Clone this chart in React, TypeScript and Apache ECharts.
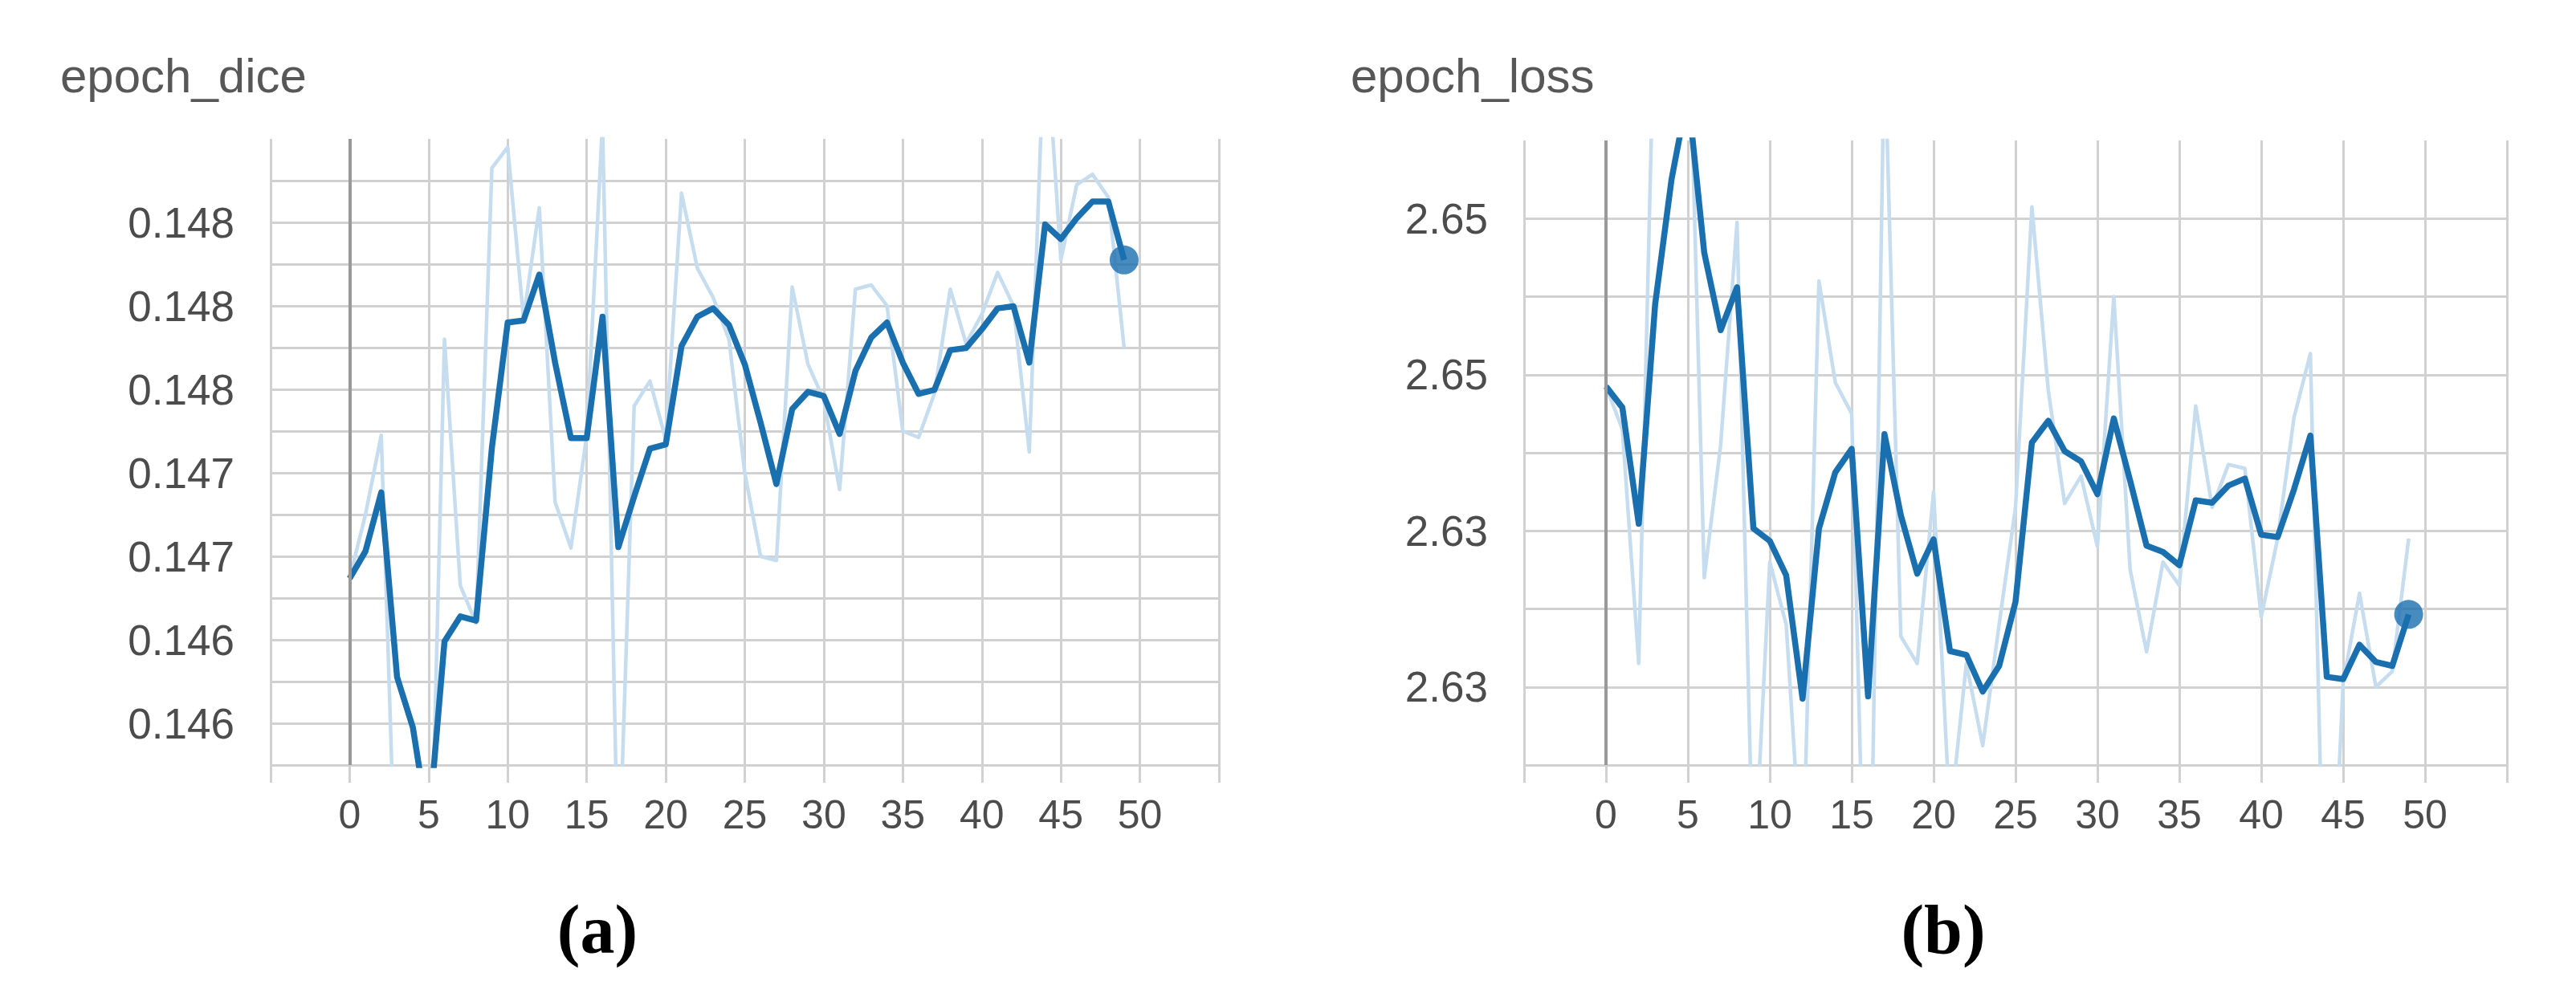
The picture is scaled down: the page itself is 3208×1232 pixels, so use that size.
import React, { useEffect, useRef } from "react";
import * as echarts from "echarts";

const epochs = [
  0, 1, 2, 3, 4, 5, 6, 7, 8, 9, 10, 11, 12, 13, 14, 15, 16, 17, 18, 19, 20, 21, 22, 23, 24,
  25, 26, 27, 28, 29, 30, 31, 32, 33, 34, 35, 36, 37, 38, 39, 40, 41, 42, 43, 44, 45, 46, 47, 48, 49,
];

const diceSmoothed = [
  0.146694, 0.146824, 0.147106, 0.146222, 0.14598, 0.1455, 0.146392, 0.146512, 0.146492, 0.14732,
  0.14792, 0.14793, 0.14815, 0.147728, 0.147366, 0.147366, 0.147948, 0.146844, 0.147086, 0.147316,
  0.147336, 0.147808, 0.147948, 0.147988, 0.147908, 0.14772, 0.14744, 0.147146, 0.147506, 0.147588,
  0.147568, 0.147386, 0.147688, 0.147848, 0.14792, 0.147728, 0.147578, 0.147598, 0.147788, 0.147798,
  0.147888, 0.147988, 0.147998, 0.147728, 0.14839, 0.14832, 0.14842, 0.1485, 0.1485, 0.14822,
];

const diceRaw = [
  0.146694, 0.147, 0.14738, 0.145, 0.1456, 0.1448, 0.14784, 0.14666, 0.14648, 0.14866,
  0.14876, 0.14794, 0.14847, 0.14706, 0.14684, 0.14738, 0.14888, 0.1452, 0.14752, 0.14764,
  0.14736, 0.14854, 0.14818, 0.14804, 0.14784, 0.1472, 0.1468, 0.14678, 0.14809, 0.14772,
  0.14755, 0.14712, 0.14808, 0.1481, 0.148, 0.1474, 0.14737, 0.14758, 0.14808, 0.14782,
  0.14796, 0.14816, 0.148, 0.1473, 0.14938, 0.14822, 0.14858, 0.14863, 0.14852, 0.1478,
];

const lossSmoothed = [
  2.64425, 2.6429, 2.63545, 2.6495, 2.6575, 2.663, 2.6528, 2.64785, 2.6506, 2.63515,
  2.63435, 2.63215, 2.62425, 2.63515, 2.63875, 2.64025, 2.6244, 2.6412, 2.636, 2.63225,
  2.63445, 2.6273, 2.62705, 2.6247, 2.62635, 2.63045, 2.64065, 2.64205, 2.6401, 2.63945,
  2.63735, 2.6422, 2.6382, 2.63405, 2.63365, 2.6328, 2.63695, 2.6368, 2.6379, 2.63835,
  2.63475, 2.6346, 2.63765, 2.6411, 2.62565, 2.6255, 2.6277, 2.6266, 2.62635, 2.62965,
];

const lossRaw = [
  2.64425, 2.6415, 2.6265, 2.6705, 2.669, 2.671, 2.632, 2.6405, 2.65475, 2.612,
  2.633, 2.629, 2.6125, 2.651, 2.6445, 2.6425, 2.6005, 2.6665, 2.62825, 2.6265,
  2.6375, 2.6165, 2.6265, 2.62125, 2.629, 2.6365, 2.65575, 2.644, 2.63675, 2.6385,
  2.634, 2.65, 2.6325, 2.62725, 2.633, 2.6315, 2.643, 2.6365, 2.63925, 2.639,
  2.6295, 2.6345, 2.64225, 2.64635, 2.6025, 2.62525, 2.631, 2.625, 2.626, 2.6345,
];

const xTickValues = [0, 5, 10, 15, 20, 25, 30, 35, 40, 45, 50];
const xTickLabels = ["0", "5", "10", "15", "20", "25", "30", "35", "40", "45", "50"];

const diceYLabelValues = [0.146, 0.1464, 0.1468, 0.1472, 0.1476, 0.148, 0.1484];
const diceYLabels = ["0.146", "0.146", "0.147", "0.147", "0.148", "0.148", "0.148"];
const lossYLabelValues = [2.625, 2.635, 2.645, 2.655];
const lossYLabels = ["2.63", "2.63", "2.65", "2.65"];

const diceRange = { min: 0.1458, max: 0.1488, step: 0.0002 };
const lossRange = { min: 2.62, max: 2.66, step: 0.005 };
const xRange = { min: -5, max: 55, step: 5 };

const titles = ["epoch_dice", "epoch_loss"];
const captions = ["(a)", "(b)"];

const DARK = "#1a6faf";
const LIGHT = "#c6dcef";
const GRID = "#d1d1d1";
const ZERO = "#999999";
const TEXT = "#4c4c4c";
const SANS = "'Liberation Sans', Arial, Helvetica, sans-serif";

const W = 3208;
const H = 1232;
const plots = [
  { left: 337, right: 1518, top: 173, bottom: 953 },
  { left: 1898, right: 3122, top: 175, bottom: 953 },
];

function tickList(r: { min: number; max: number; step: number }) {
  const out: number[] = [];
  const n = Math.round((r.max - r.min) / r.step);
  for (let i = 0; i < n; i++) out.push(Number((r.min + i * r.step).toFixed(6)));
  return out;
}

function labelFor(values: number[], labels: string[], tol: number) {
  return (v: number) => {
    for (let i = 0; i < values.length; i++) {
      if (Math.abs(v - values[i]) < tol) return labels[i];
    }
    return "";
  };
}

export default function App() {
  const ref = useRef<HTMLDivElement>(null);

  useEffect(() => {
    if (!ref.current) return;
    const chart = echarts.init(ref.current, undefined, { renderer: "svg" });

    const grids = plots.map((p) => ({
      left: p.left,
      right: W - p.right,
      top: p.top,
      bottom: H - p.bottom,
      containLabel: false,
      outerBoundsMode: "none",
    }));

    const xAxisFor = (gridIndex: number) => ({
      type: "value",
      gridIndex,
      min: xRange.min,
      max: xRange.max,
      interval: xRange.step,
      axisLine: { show: false },
      axisTick: { show: true, inside: false, length: 22, lineStyle: { color: GRID, width: 3 } },
      axisLabel: {
        show: true,
        margin: 37,
        fontSize: 50,
        fontFamily: SANS,
        color: TEXT,
        formatter: labelFor(xTickValues, xTickLabels, 0.01),
      },
      splitLine: { show: true, lineStyle: { color: GRID, width: 3 } },
    });

    const yLabelAxis = (
      gridIndex: number,
      r: { min: number; max: number; step: number },
      lv: number[],
      lt: string[]
    ) => ({
      type: "value",
      gridIndex,
      min: r.min,
      max: r.max,
      interval: r.step,
      axisLine: { show: false },
      axisTick: {
        show: true,
        inside: false,
        length: 20,
        customValues: tickList(r),
        lineStyle: { color: GRID, width: 3 },
      },
      axisLabel: {
        show: true,
        margin: 45,
        fontSize: 53,
        fontFamily: SANS,
        color: TEXT,
        customValues: lv,
        formatter: labelFor(lv, lt, r.step / 10),
      },
      splitLine: { show: false },
    });

    const yGridAxis = (gridIndex: number, r: { min: number; max: number; step: number }) => ({
      type: "value",
      gridIndex,
      min: r.min,
      max: r.max,
      interval: r.step,
      axisLine: { show: false },
      axisLabel: { show: false },
      splitLine: { show: false },
      axisTick: {
        show: true,
        inside: true,
        length: plots[gridIndex].right - plots[gridIndex].left,
        customValues: tickList(r),
        lineStyle: { color: GRID, width: 3 },
      },
    });

    const panel = (idx: number, raw: number[], smooth: number[]) => {
      const last = epochs.length - 1;
      return [
        {
          type: "line",
          xAxisIndex: idx,
          yAxisIndex: idx,
          data: [],
          z: 1,
          silent: true,
          markLine: {
            silent: true,
            symbol: ["none", "none"],
            label: { show: false },
            lineStyle: { color: ZERO, width: 4, type: "solid" },
            data: [{ xAxis: 0 }],
          },
        },
        {
          type: "line",
          xAxisIndex: idx,
          yAxisIndex: idx,
          data: epochs.map((e, i) => [e, raw[i]]),
          showSymbol: false,
          symbol: "none",
          clip: true,
          z: 2,
          lineStyle: { color: LIGHT, width: 4.5, join: "round" },
        },
        {
          type: "line",
          xAxisIndex: idx,
          yAxisIndex: idx,
          data: epochs.map((e, i) => [e, smooth[i]]),
          showSymbol: false,
          symbol: "none",
          clip: true,
          z: 3,
          lineStyle: { color: DARK, width: 7.5, join: "round" },
        },
        {
          type: "scatter",
          xAxisIndex: idx,
          yAxisIndex: idx,
          data: [[epochs[last], smooth[last]]],
          symbol: "circle",
          symbolSize: 36,
          z: 4,
          itemStyle: { color: DARK },
        },
      ];
    };

    const textEl = (text: string, x: number, y: number, font: string, fill: string, align: string) => ({
      type: "text",
      x,
      y,
      style: { text, fill, font, textAlign: align, textVerticalAlign: "middle", align, verticalAlign: "middle" },
    });

    const option: any = {
      animation: false,
      backgroundColor: "#ffffff",
      grid: grids,
      xAxis: [xAxisFor(0), xAxisFor(1)],
      yAxis: [
        yLabelAxis(0, diceRange, diceYLabelValues, diceYLabels),
        yLabelAxis(1, lossRange, lossYLabelValues, lossYLabels),
        yGridAxis(0, diceRange),
        yGridAxis(1, lossRange),
      ],
      series: [...panel(0, diceRaw, diceSmoothed), ...panel(1, lossRaw, lossSmoothed)],
      graphic: [
        textEl(titles[0], 75, 94, `60px ${SANS}`, "#575757", "left"),
        textEl(titles[1], 1682, 94, `60px ${SANS}`, "#575757", "left"),
        textEl(captions[0], 744, 1158, `bold 86px 'Liberation Serif', 'Times New Roman', serif`, "#000000", "center"),
        textEl(captions[1], 2420, 1158, `bold 86px 'Liberation Serif', 'Times New Roman', serif`, "#000000", "center"),
      ],
    };

    chart.setOption(option);
    return () => chart.dispose();
  }, []);

  return (
    <div
      ref={ref}
      style={{ position: "absolute", left: 0, top: 0, width: W, height: H, background: "#fff" }}
    />
  );
}
